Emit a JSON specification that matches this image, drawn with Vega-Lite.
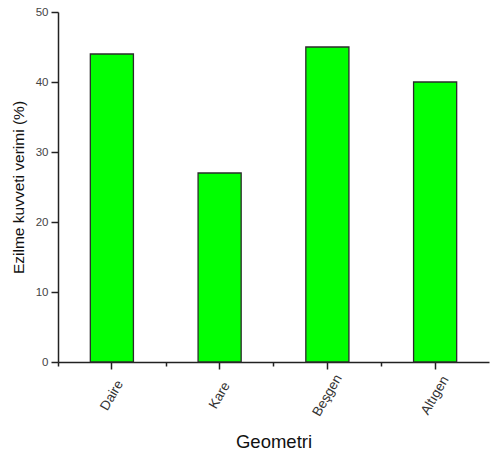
{
  "$schema": "https://vega.github.io/schema/vega-lite/v6.json",
  "width": 431,
  "height": 350,
  "autosize": "none",
  "padding": {"left": 58, "top": 12, "right": 2, "bottom": 97},
  "background": "white",
  "config": {"view": {"stroke": null}, "font": "Liberation Sans"},
  "data": {"values": [
    {"Geometri": "Daire", "verim": 44},
    {"Geometri": "Kare", "verim": 27},
    {"Geometri": "Beşgen", "verim": 45},
    {"Geometri": "Altıgen", "verim": 40}
  ]},
  "layer": [
    {
      "mark": {"type": "bar", "color": "#00ff00", "stroke": "#2b2b2b", "strokeWidth": 1.3},
      "encoding": {
        "x": {"field": "Geometri", "type": "nominal", "sort": null,
              "scale": {"paddingInner": 0.6, "paddingOuter": 0.3},
              "axis": {"title": "Geometri", "titleFontSize": 18.5, "titleFontWeight": "normal", "titleColor": "#111", "titlePadding": 14,
                       "labelAngle": -60, "labelAlign": "center", "labelBaseline": "middle", "labelFontSize": 13.5, "labelColor": "#333", "labelPadding": 26,
                       "domainColor": "#222", "domainWidth": 1.5, "ticks": true, "tickColor": "#222", "tickWidth": 1.5, "tickSize": 7}},
        "y": {"field": "verim", "type": "quantitative",
              "scale": {"domain": [0, 50], "nice": false},
              "axis": {"title": "Ezilme kuvveti verimi (%)", "titleFontSize": 15.5, "titleFontWeight": "normal", "titleColor": "#111", "titlePadding": 9,
                       "values": [0, 5, 10, 15, 20, 25, 30, 35, 40, 45, 50],
                       "labelExpr": "datum.value % 10 === 0 ? datum.label : ''",
                       "labelFontSize": 11.5, "labelColor": "#444", "labelPadding": 3, "grid": false,
                       "domainColor": "#222", "domainWidth": 1.5, "ticks": true, "tickColor": "#222", "tickWidth": 1.5,
                       "tickSize": {"condition": {"test": "datum.value % 10 !== 0", "value": 4}, "value": 7}}}
      }
    },
    {
      "mark": {"type": "bar", "opacity": 0},
      "encoding": {
        "x": {"field": "Geometri", "type": "nominal", "sort": null,
              "axis": {"orient": "bottom", "title": null, "labels": false, "domain": false, "ticks": true, "tickOffset": -54, "tickColor": "#222", "tickWidth": 1.5, "tickSize": 4}},
        "y": {"field": "verim", "type": "quantitative"}
      }
    }
  ],
  "resolve": {"axis": {"x": "independent"}}
}
